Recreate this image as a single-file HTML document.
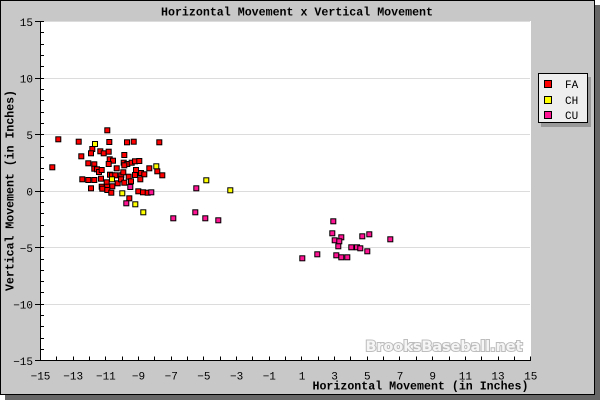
<!DOCTYPE html>
<html><head><meta charset="utf-8"><style>
html,body{margin:0;padding:0;width:600px;height:400px;overflow:hidden;background:#fff}
svg{display:block}
</style></head><body>
<svg width="600" height="400" viewBox="0 0 600 400" xmlns="http://www.w3.org/2000/svg">
<rect x="0" y="0" width="600" height="400" fill="#ffffff"/>
<rect x="5" y="5" width="595" height="395" fill="#666666"/>
<rect x="0.5" y="0.5" width="594" height="394" fill="#c8c8c8" stroke="#000" stroke-width="1"/>
<rect x="41" y="21" width="490" height="339" fill="#ffffff"/>
<g stroke="#dcdcdc" stroke-width="1">
<path d="M41 21.5H530M41 78.5H530M41 134.5H530M41 191.5H530M41 247.5H530M41 304.5H530"/>
</g>
<text x="365.5" y="351" font-family="DejaVu Sans, Liberation Sans, sans-serif" font-weight="bold" font-size="14" textLength="157" lengthAdjust="spacingAndGlyphs" fill="#f6f6f6" stroke="#bdbdbd" stroke-width="2" paint-order="stroke">BrooksBaseball.net</text>
<g stroke="#000" stroke-width="1" fill="none">
<path d="M40.5 21V361M40 360.5H531"/>
<path d="M40.5 21.5H44M40.5 32.5H44M40.5 44.5H44M40.5 55.5H44M40.5 66.5H44M40.5 78.5H44M40.5 89.5H44M40.5 100.5H44M40.5 112.5H44M40.5 123.5H44M40.5 134.5H44M40.5 146.5H44M40.5 157.5H44M40.5 168.5H44M40.5 179.5H44M40.5 191.5H44M40.5 202.5H44M40.5 213.5H44M40.5 225.5H44M40.5 236.5H44M40.5 247.5H44M40.5 259.5H44M40.5 270.5H44M40.5 281.5H44M40.5 292.5H44M40.5 304.5H44M40.5 315.5H44M40.5 326.5H44M40.5 338.5H44M40.5 349.5H44"/>
<path d="M35 21.5H40.5M35 78.5H40.5M35 134.5H40.5M35 191.5H40.5M35 247.5H40.5M35 304.5H40.5M35 360.5H40.5"/>
<path d="M56.5 360V356.5M73.5 360V356.5M89.5 360V356.5M105.5 360V356.5M122.5 360V356.5M138.5 360V356.5M154.5 360V356.5M171.5 360V356.5M187.5 360V356.5M203.5 360V356.5M220.5 360V356.5M236.5 360V356.5M252.5 360V356.5M269.5 360V356.5M285.5 360V356.5M301.5 360V356.5M318.5 360V356.5M334.5 360V356.5M350.5 360V356.5M367.5 360V356.5M383.5 360V356.5M399.5 360V356.5M416.5 360V356.5M432.5 360V356.5M449.5 360V356.5M465.5 360V356.5M481.5 360V356.5M498.5 360V356.5M514.5 360V356.5M530.5 360V356.5"/>
</g>
<g font-family="Liberation Mono, DejaVu Sans Mono, monospace" font-size="11" fill="#000" text-anchor="end">
<text x="33" y="26">15</text>
<text x="33" y="82.5">10</text>
<text x="33" y="139">5</text>
<text x="33" y="195.5">0</text>
<text x="33" y="252">−5</text>
<text x="33" y="308.5">−10</text>
<text x="33" y="365">−15</text>
</g>
<g font-family="Liberation Mono, DejaVu Sans Mono, monospace" font-size="11" fill="#000" text-anchor="middle">
<text x="40.5" y="379.5">−15</text>
<text x="73.2" y="379.5">−13</text>
<text x="105.9" y="379.5">−11</text>
<text x="138.5" y="379.5">−9</text>
<text x="171.2" y="379.5">−7</text>
<text x="203.9" y="379.5">−5</text>
<text x="236.6" y="379.5">−3</text>
<text x="269.3" y="379.5">−1</text>
<text x="302" y="379.5">1</text>
<text x="334.6" y="379.5">3</text>
<text x="367.3" y="379.5">5</text>
<text x="400" y="379.5">7</text>
<text x="432.7" y="379.5">9</text>
<text x="465.4" y="379.5">11</text>
<text x="498" y="379.5">13</text>
<text x="530.7" y="379.5">15</text>
</g>
<g font-family="Liberation Mono, DejaVu Sans Mono, monospace" font-size="11.7" font-weight="bold" fill="#000">
<text x="161" y="15.5" textLength="272" lengthAdjust="spacingAndGlyphs">Horizontal Movement x Vertical Movement</text>
<text x="312.5" y="389.5" textLength="216" lengthAdjust="spacingAndGlyphs">Horizontal Movement (in Inches)</text>
<text transform="translate(13.5,291) rotate(-90)" x="0" y="0" textLength="201" lengthAdjust="spacingAndGlyphs">Vertical Movement (in Inches)</text>
</g>
<g stroke="#000" stroke-width="1" fill="#ff0000">
<rect x="104.8" y="127.8" width="5" height="5"/>
<rect x="55.8" y="136.8" width="5" height="5"/>
<rect x="76.2" y="139.2" width="5" height="5"/>
<rect x="106.8" y="139.5" width="5" height="5"/>
<rect x="124.5" y="139.8" width="5" height="5"/>
<rect x="131.2" y="139.2" width="5" height="5"/>
<rect x="156.8" y="139.8" width="5" height="5"/>
<rect x="89.8" y="146.5" width="5" height="5"/>
<rect x="88.5" y="150.8" width="5" height="5"/>
<rect x="97.8" y="148.8" width="5" height="5"/>
<rect x="101.2" y="150.8" width="5" height="5"/>
<rect x="106.2" y="149.2" width="5" height="5"/>
<rect x="78.8" y="153.8" width="5" height="5"/>
<rect x="121.8" y="152.5" width="5" height="5"/>
<rect x="107.2" y="156.8" width="5" height="5"/>
<rect x="110.5" y="158.2" width="5" height="5"/>
<rect x="106.2" y="161.5" width="5" height="5"/>
<rect x="85.8" y="160.8" width="5" height="5"/>
<rect x="91.8" y="161.8" width="5" height="5"/>
<rect x="121.2" y="160.2" width="5" height="5"/>
<rect x="124.8" y="161.5" width="5" height="5"/>
<rect x="129.2" y="160.2" width="5" height="5"/>
<rect x="132.5" y="158.8" width="5" height="5"/>
<rect x="136.8" y="158.5" width="5" height="5"/>
<rect x="121.8" y="162.8" width="5" height="5"/>
<rect x="91.8" y="166.2" width="5" height="5"/>
<rect x="94.5" y="166.8" width="5" height="5"/>
<rect x="96.5" y="169.5" width="5" height="5"/>
<rect x="99.2" y="167.5" width="5" height="5"/>
<rect x="114.2" y="165.8" width="5" height="5"/>
<rect x="133.5" y="167.5" width="5" height="5"/>
<rect x="138.5" y="170.5" width="5" height="5"/>
<rect x="107.5" y="172.2" width="5" height="5"/>
<rect x="109.5" y="172.8" width="5" height="5"/>
<rect x="112.8" y="172.8" width="5" height="5"/>
<rect x="118.8" y="172.8" width="5" height="5"/>
<rect x="120.8" y="169.8" width="5" height="5"/>
<rect x="126.2" y="174.2" width="5" height="5"/>
<rect x="132.5" y="172.5" width="5" height="5"/>
<rect x="141.8" y="171.8" width="5" height="5"/>
<rect x="137.8" y="176.8" width="5" height="5"/>
<rect x="79.8" y="176.8" width="5" height="5"/>
<rect x="85.8" y="177.5" width="5" height="5"/>
<rect x="91.8" y="177.5" width="5" height="5"/>
<rect x="98.5" y="176.2" width="5" height="5"/>
<rect x="104.2" y="179.8" width="5" height="5"/>
<rect x="115.2" y="180.8" width="5" height="5"/>
<rect x="118.5" y="176.8" width="5" height="5"/>
<rect x="121.8" y="180.2" width="5" height="5"/>
<rect x="128.5" y="178.8" width="5" height="5"/>
<rect x="99.2" y="184.2" width="5" height="5"/>
<rect x="104.5" y="184.2" width="5" height="5"/>
<rect x="109.8" y="183.8" width="5" height="5"/>
<rect x="88.5" y="185.8" width="5" height="5"/>
<rect x="99.8" y="186.2" width="5" height="5"/>
<rect x="104.8" y="187.5" width="5" height="5"/>
<rect x="135.8" y="188.8" width="5" height="5"/>
<rect x="140.5" y="189.8" width="5" height="5"/>
<rect x="145.2" y="190.2" width="5" height="5"/>
<rect x="108.8" y="190.2" width="5" height="5"/>
<rect x="49.8" y="164.8" width="5" height="5"/>
<rect x="146.8" y="165.8" width="5" height="5"/>
<rect x="154.8" y="168.8" width="5" height="5"/>
<rect x="159.8" y="172.8" width="5" height="5"/>
<rect x="126.8" y="195.8" width="5" height="5"/>
</g>
<g stroke="#000" stroke-width="1" fill="#ffff00">
<rect x="92.5" y="141.5" width="5" height="5"/>
<rect x="153.8" y="163.8" width="5" height="5"/>
<rect x="109.5" y="176.8" width="5" height="5"/>
<rect x="119.8" y="190.8" width="5" height="5"/>
<rect x="132.8" y="201.8" width="5" height="5"/>
<rect x="140.8" y="209.8" width="5" height="5"/>
<rect x="203.8" y="177.8" width="5" height="5"/>
<rect x="227.8" y="187.8" width="5" height="5"/>
</g>
<g stroke="#000" stroke-width="1" fill="#ff1493">
<rect x="127.8" y="184.5" width="5" height="5"/>
<rect x="148.8" y="189.8" width="5" height="5"/>
<rect x="123.8" y="200.8" width="5" height="5"/>
<rect x="193.8" y="185.8" width="5" height="5"/>
<rect x="170.8" y="215.8" width="5" height="5"/>
<rect x="192.8" y="209.8" width="5" height="5"/>
<rect x="202.8" y="215.8" width="5" height="5"/>
<rect x="215.8" y="217.8" width="5" height="5"/>
<rect x="330.8" y="218.8" width="5" height="5"/>
<rect x="329.8" y="230.8" width="5" height="5"/>
<rect x="338.8" y="234.8" width="5" height="5"/>
<rect x="332.2" y="237.8" width="5" height="5"/>
<rect x="336.8" y="238.8" width="5" height="5"/>
<rect x="359.8" y="233.8" width="5" height="5"/>
<rect x="366.8" y="231.8" width="5" height="5"/>
<rect x="387.8" y="236.8" width="5" height="5"/>
<rect x="335.8" y="243.8" width="5" height="5"/>
<rect x="348.8" y="244.8" width="5" height="5"/>
<rect x="354.5" y="244.8" width="5" height="5"/>
<rect x="357.8" y="245.8" width="5" height="5"/>
<rect x="364.8" y="248.8" width="5" height="5"/>
<rect x="299.8" y="255.8" width="5" height="5"/>
<rect x="314.8" y="251.8" width="5" height="5"/>
<rect x="333.8" y="252.8" width="5" height="5"/>
<rect x="338.8" y="254.8" width="5" height="5"/>
<rect x="344.8" y="254.8" width="5" height="5"/>
</g>
<rect x="541" y="77" width="50" height="50" fill="#999999"/>
<rect x="538.5" y="73.5" width="49" height="49" fill="#eeeeee" stroke="#000" stroke-width="1"/>
<g stroke="#000" stroke-width="1">
<rect x="544.5" y="80.5" width="7" height="7" fill="#ff0000"/>
<rect x="544.5" y="96.5" width="7" height="7" fill="#ffff00"/>
<rect x="544.5" y="111.5" width="7" height="7" fill="#ff1493"/>
</g>
<g font-family="Liberation Mono, DejaVu Sans Mono, monospace" font-size="11" fill="#000">
<text x="565" y="88">FA</text>
<text x="565" y="104">CH</text>
<text x="565" y="119">CU</text>
</g>
</svg>
</body></html>
